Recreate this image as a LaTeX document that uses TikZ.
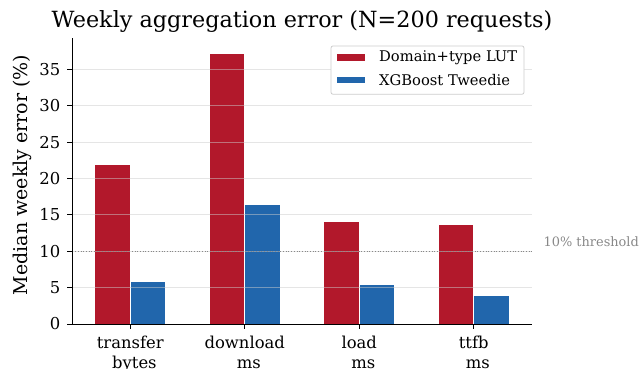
\documentclass[tikz,border=0pt]{standalone}
\usepackage{fontspec}
\setmainfont{DejaVu Serif}
\usepackage{xcolor}
\usepackage{tikz}
\usetikzlibrary{positioning}

\definecolor{lutred}{HTML}{B2182B}
\definecolor{xgbblue}{HTML}{2166AC}
\definecolor{gridgray}{HTML}{CCCCCC}
\definecolor{thrgray}{HTML}{888888}

\tikzset{
	ticklbl/.style={font=\fontsize{16.4}{19.7}\selectfont, inner sep=0pt},
	legtxt/.style={font=\fontsize{14.7}{17}\selectfont, inner sep=0pt, anchor=west},
	barA/.style={fill=lutred, draw=white, line width=0.8pt},
	barB/.style={fill=xgbblue, draw=white, line width=0.8pt},
	gridln/.style={draw=gridgray, line width=0.8pt, opacity=0.5},
}

\begin{document}
\begin{tikzpicture}[x=1pt, y=1pt]
	\useasboundingbox (0,0) rectangle (641,368);
	\begin{scope}[shift={(130.3,44)}, x=114.47pt, y=7.277pt]
		% bars
		\foreach \i/\lut/\xgb in {0/21.9/5.9, 1/37.2/16.5, 2/14.15/5.5, 3/13.74/3.94} {
			\path[barA] (\i-0.31,0) rectangle (\i,\lut);
			\path[barB] (\i,0) rectangle (\i+0.31,\xgb);
		}
		% grid
		\foreach \v in {5,10,...,35}
			\draw[gridln] (-0.505,\v) -- (3.509,\v);
		% threshold
		\coordinate (thrL) at (-0.505,10);
		\coordinate (thrR) at (3.509,10);
		\draw[thrgray, dotted, line width=0.7pt] (thrL) -- (thrR);
		% axes
		\coordinate (orig) at (-0.505,0);
		\coordinate (ytop) at (-0.505,39.3);
		\coordinate (xend) at (3.509,0);
		\draw[line width=1pt] (ytop) -- (orig) -- (xend);
		\foreach \v in {0,5,...,35} {
			\draw[line width=0.8pt] (-0.505,\v) -- ++(-5pt,0);
			\node[ticklbl, anchor=east] (yt\v) at ([xshift=-12pt]-0.505,\v) {\v};
		}
		\foreach \i/\top/\bot in {0/transfer/bytes, 1/download/ms, 2/load/ms, 3/ttfb/ms} {
			\draw[line width=0.8pt] (\i,0) -- ++(0,-5pt);
			\node[ticklbl, anchor=north, align=center] (xt\i) at ([yshift=-12pt]\i,0) {\top\\\hspace*{0.5em}\bot};
		}
	\end{scope}
	\node[anchor=base west, text=thrgray, font=\fontsize{12.9}{15}\selectfont, inner sep=0pt] (thr) at (543.5,122) {10\% threshold};
	% legend
	\node[draw=gridgray, fill=white, rounded corners=2pt, line width=0.8pt, minimum width=193pt, minimum height=48.3pt, inner sep=0pt] (leg) at (427.5,297.9) {};
	\fill[lutred] (337.3,307.3) rectangle (365,314);
	\fill[xgbblue] (337.3,284.7) rectangle (365,291.3);
	\node[legtxt] (legA) at (379,310.7) {Domain+type LUT};
	\node[legtxt] (legB) at (379,288) {XGBoost Tweedie};
	% title and axis label
	\node[anchor=base, font=\fontsize{22.3}{26}\selectfont, inner sep=0pt] (title) at (302,340.3) {Weekly aggregation error (N=200 requests)};
	\node[rotate=90, font=\fontsize{19}{22}\selectfont, inner sep=0pt] (ylbl) at (22,193) {Median weekly error (\%)};
\end{tikzpicture}
\end{document}
